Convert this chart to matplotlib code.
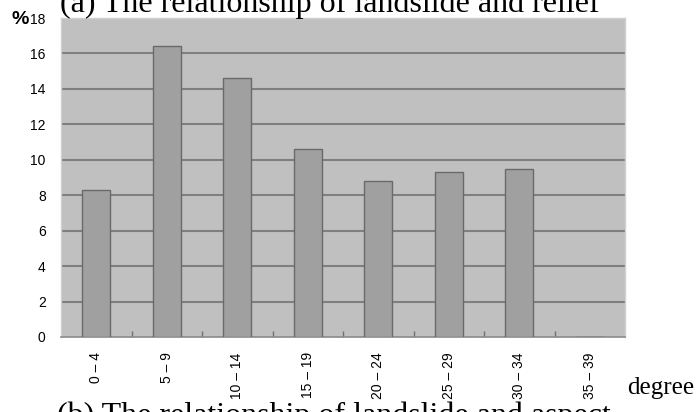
import matplotlib
matplotlib.use("Agg")
import matplotlib.pyplot as plt
import numpy as np

categories = ["0 – 4", "5 – 9", "10 – 14", "15 – 19", "20 – 24", "25 – 29", "30 – 34", "35 – 39"]
values = [8.3, 16.4, 14.6, 10.6, 8.8, 9.3, 9.5, 0.0]
yticks = [0, 2, 4, 6, 8, 10, 12, 14, 16, 18]

W, H = 696, 412
fig = plt.figure(figsize=(W / 100, H / 100), dpi=100)
ax = fig.add_axes([61 / W, 1 - 337 / H, (625 - 61) / W, (337 - 18) / H])

ax.set_facecolor("#c0c0c0")
x = np.arange(len(categories))
ax.bar(x, values, width=0.4, color="#a0a0a0", edgecolor="#6a6a6a", linewidth=1.0, zorder=3)

ax.set_xlim(-0.5, len(categories) - 0.5)
ax.set_ylim(0, 18)
ax.set_yticks(yticks)
ax.set_yticklabels([str(v) for v in yticks], fontsize=10, family="Liberation Sans")
ax.tick_params(axis="y", length=0, pad=11)
for v in yticks[1:-1]:
    ax.axhline(v, color="#7f7f7f", linewidth=1.5, zorder=1)

ax.set_xticks(x)
ax.set_xticklabels(categories, rotation=90, fontsize=10, family="Liberation Sans", va="top", ha="center")
ax.tick_params(axis="x", length=0, pad=11)
ax.set_xticks(np.arange(0.5, len(categories) - 0.5, 1), minor=True)
ax.tick_params(axis="x", which="minor", direction="in", length=4, color="#707070", width=1)

for side in ["top", "right", "left"]:
    ax.spines[side].set_color("#d0d0d0")
    ax.spines[side].set_linewidth(1.0)
ax.spines["bottom"].set_color("#8a8a8a")
ax.spines["bottom"].set_linewidth(1.2)

fig.text(12 / W, 1 - 24 / H, "%", fontsize=14, fontweight="bold", family="Liberation Sans", ha="left", va="baseline")
fig.text(60 / W, 1 - 12 / H, "(a) The relationship of landslide and relief", fontsize=23,
         family="Liberation Serif", ha="left", va="baseline")
fig.text(627 / W, 1 - 394 / H, "degree", fontsize=18, family="Liberation Serif", ha="left", va="baseline")
fig.text(57 / W, 1 - 424 / H, "(b) The relationship of landslide and aspect", fontsize=23,
         family="Liberation Serif", ha="left", va="baseline")

fig.savefig("out.png", dpi=100)
